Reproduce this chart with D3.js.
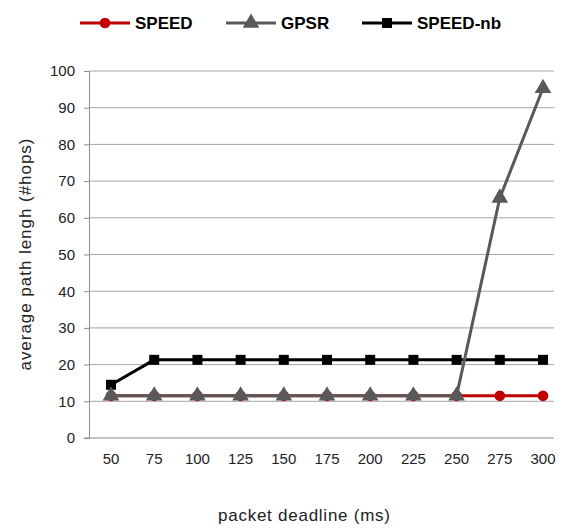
<!DOCTYPE html>
<html>
<head>
<meta charset="utf-8">
<script src="https://cdn.jsdelivr.net/npm/d3@7"></script>
<style>
  body { margin: 0; background: #fff; }
  svg text { font-family: "Liberation Sans", Arial, sans-serif; }
</style>
</head>
<body>
<div id="chart"></div>
<script>
// packet deadline (ms)
const deadlines = [50, 75, 100, 125, 150, 175, 200, 225, 250, 275, 300];
const speed = [11.5, 11.5, 11.5, 11.5, 11.5, 11.5, 11.5, 11.5, 11.5, 11.5, 11.5];
const gpsr = [11.5, 11.5, 11.5, 11.5, 11.5, 11.5, 11.5, 11.5, 11.5, 65.4, 95.3];
const speedNb = [14.5, 21.3, 21.3, 21.3, 21.3, 21.3, 21.3, 21.3, 21.3, 21.3, 21.3];
const yTicks = [0, 10, 20, 30, 40, 50, 60, 70, 80, 90, 100];

const W = 563, H = 529;
const plot = { left: 89, right: 554, top: 71, bottom: 438 };

const svg = d3.select('#chart').append('svg')
  .attr('width', W).attr('height', H);

const x = d3.scalePoint().domain(deadlines).range([111, 543]);
const y = d3.scaleLinear().domain([0, 100]).range([plot.bottom, plot.top]);

// gridlines
svg.append('g').selectAll('line')
  .data(yTicks.filter(d => d > 0))
  .enter().append('line')
  .attr('x1', plot.left).attr('x2', plot.right)
  .attr('y1', d => y(d)).attr('y2', d => y(d))
  .attr('stroke', '#a6a6a6').attr('stroke-width', 1);

// y axis
const yAxis = svg.append('g')
  .attr('transform', `translate(${plot.left},0)`)
  .call(d3.axisLeft(y).tickValues(yTicks).tickSize(5).tickPadding(9));
yAxis.select('.domain').attr('stroke', '#8c8c8c');
yAxis.selectAll('.tick line').attr('stroke', '#8c8c8c');
yAxis.selectAll('.tick text').attr('font-size', 15).attr('fill', '#222')
  .attr('font-family', '"Liberation Sans", Arial, sans-serif');

// x axis (baseline)
svg.append('line')
  .attr('x1', plot.left - 5).attr('x2', plot.right)
  .attr('y1', plot.bottom).attr('y2', plot.bottom)
  .attr('stroke', '#8c8c8c');

svg.append('g').selectAll('text')
  .data(deadlines)
  .enter().append('text')
  .attr('x', d => x(d)).attr('y', 464)
  .attr('text-anchor', 'middle')
  .attr('font-size', 15).attr('fill', '#222')
  .text(d => d);

// axis titles
svg.append('text')
  .attr('x', 304).attr('y', 521)
  .attr('text-anchor', 'middle')
  .attr('font-size', 17).attr('fill', '#222')
  .attr('textLength', 172)
  .text('packet deadline (ms)');

svg.append('text')
  .attr('transform', `translate(31,${(plot.top + plot.bottom) / 2}) rotate(-90)`)
  .attr('text-anchor', 'middle')
  .attr('font-size', 17).attr('fill', '#222')
  .attr('textLength', 232)
  .text('average path lengh (#hops)');

const series = [
  { name: 'SPEED', values: speed, color: '#c00000', marker: d3.symbolCircle, size: 90 },
  { name: 'SPEED-nb', values: speedNb, color: '#000000', marker: d3.symbolSquare, size: 100 },
  { name: 'GPSR', values: gpsr, color: '#595959', marker: d3.symbolTriangle, size: 120 }
];

const line = d3.line()
  .x((d, i) => x(deadlines[i]))
  .y(d => y(d));

series.forEach(s => {
  const g = svg.append('g');
  g.append('path')
    .datum(s.values)
    .attr('d', line)
    .attr('fill', 'none')
    .attr('stroke', s.color)
    .attr('stroke-width', 3);
  g.selectAll('path.m')
    .data(s.values)
    .enter().append('path')
    .attr('class', 'm')
    .attr('d', d3.symbol().type(s.marker).size(s.size))
    .attr('transform', (d, i) => `translate(${x(deadlines[i])},${y(d)})`)
    .attr('fill', s.color);
});

// legend
const legendItems = [
  { name: 'SPEED', color: '#c00000', marker: d3.symbolCircle, size: 90, x: 80 },
  { name: 'GPSR', color: '#595959', marker: d3.symbolTriangle, size: 120, x: 226 },
  { name: 'SPEED-nb', color: '#000000', marker: d3.symbolSquare, size: 100, x: 362 }
];
const legend = svg.append('g');
legendItems.forEach(it => {
  const g = legend.append('g').attr('transform', `translate(${it.x},23)`);
  g.append('line')
    .attr('x1', 0).attr('x2', 50)
    .attr('stroke', it.color).attr('stroke-width', 3);
  g.append('path')
    .attr('d', d3.symbol().type(it.marker).size(it.size))
    .attr('transform', 'translate(25,0)')
    .attr('fill', it.color);
  g.append('text')
    .attr('x', 55).attr('y', 6)
    .attr('font-size', 17).attr('font-weight', 'bold').attr('fill', '#000')
    .text(it.name);
});
</script>
</body>
</html>
